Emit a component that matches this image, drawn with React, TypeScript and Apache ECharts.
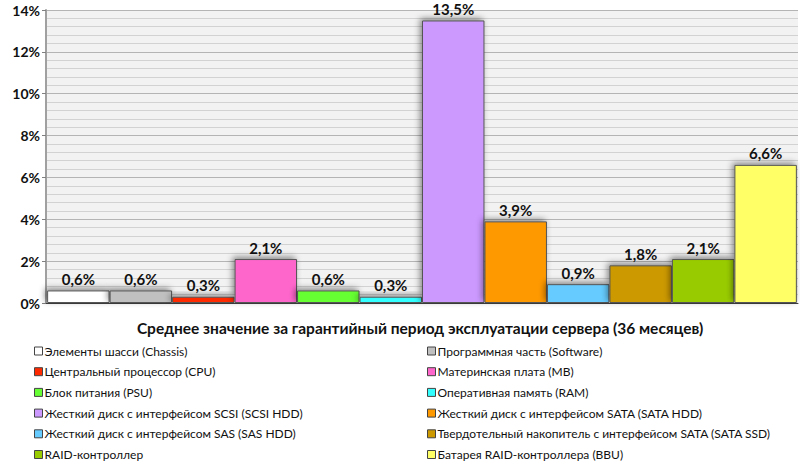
import React, { useEffect, useRef } from "react";
import * as echarts from "echarts";

const names = [
  "Элементы шасси (Chassis)",
  "Программная часть (Software)",
  "Центральный процессор (CPU)",
  "Материнская плата (MB)",
  "Блок питания (PSU)",
  "Оперативная память (RAM)",
  "Жесткий диск с интерфейсом SCSI (SCSI HDD)",
  "Жесткий диск с интерфейсом SATA (SATA HDD)",
  "Жесткий диск с интерфейсом SAS (SAS HDD)",
  "Твердотельный накопитель с интерфейсом SATA (SATA SSD)",
  "RAID-контроллер",
  "Батарея RAID-контроллера (BBU)",
];
const values = [0.6, 0.6, 0.3, 2.1, 0.6, 0.3, 13.5, 3.9, 0.9, 1.8, 2.1, 6.6];
const colors = [
  "#FFFFFF", "#C0C0C0", "#FF2A00", "#FF66CC", "#66FF33", "#33FFFF",
  "#CC99FF", "#FF9900", "#66CCFF", "#CC9900", "#99CC00", "#FFFF66",
];
const category = ["Среднее значение за гарантийный период эксплуатации сервера (36 месяцев)"];

const FONT = "Lato, 'Noto Sans', sans-serif";

export default function App() {
  const ref = useRef<HTMLDivElement>(null);
  useEffect(() => {
    const chart = echarts.init(ref.current!, null, { renderer: "svg" });
    const series = names.map((n, i) => ({
      name: n,
      type: "bar",
      data: [values[i]],
      barGap: "0%",
      barCategoryGap: "0.3%",
      itemStyle: {
        color: colors[i],
        borderColor: "#555",
        borderWidth: 1,
        shadowBlur: 6,
        shadowColor: "rgba(0,0,0,0.45)",
        shadowOffsetX: -2,
        shadowOffsetY: -2,
      },
      label: {
        show: true,
        position: "top",
        distance: 4,
        fontFamily: FONT,
        fontWeight: "bold",
        fontSize: 15,
        color: "#111",
        formatter: (p: any) => String(p.value).replace(".", ",") + "%",
      },
    }));
    const legendCommon = {
      orient: "vertical",
      padding: 0,
      itemWidth: 8,
      itemHeight: 8,
      itemGap: 6.7,
      icon: "rect",
      itemStyle: { borderColor: "#444", borderWidth: 1 },
      textStyle: { fontFamily: FONT, fontSize: 12, color: "#111", lineHeight: 14, padding: [0, 0, 0, -3] },
      top: 344,
      height: 120,
      selectedMode: false,
    };
    chart.setOption({
      animation: false,
      backgroundColor: "#fff",
      grid: {
        left: 46,
        right: 2,
        top: 10,
        bottom: 161,
        show: true,
        backgroundColor: "#F2F2F2",
        borderWidth: 0,
      },
      legend: [
        { ...legendCommon, left: 34, data: names.filter((_, i) => i % 2 === 0) },
        { ...legendCommon, left: 427, data: names.filter((_, i) => i % 2 === 1) },
      ],
      xAxis: {
        type: "category",
        data: category,
        axisLine: { lineStyle: { color: "#404040", width: 1 } },
        axisTick: { show: false },
        axisLabel: { show: false },
      },
      yAxis: {
        type: "value",
        min: 0,
        max: 14,
        interval: 2,
        axisLine: { show: true, lineStyle: { color: "#A0A0A0", width: 2 } },
        axisTick: { show: true, length: 4, lineStyle: { color: "#808080" } },
        axisLabel: {
          formatter: "{value}%",
          fontFamily: FONT,
          fontWeight: "bold",
          fontSize: 14,
          color: "#111",
          margin: 6,
        },
        splitLine: { show: true, lineStyle: { color: "#B4B4B4", width: 1 } },
        minorTick: { show: false, splitNumber: 5 },
        minorSplitLine: { show: true, lineStyle: { color: "#D2D2D2", width: 1 } },
      },
      graphic: [
        {
          type: "text",
          x: 420,
          y: 328,
          style: {
            text: category[0],
            fontFamily: FONT,
            fontWeight: "bold",
            fontSize: 15.5,
            fill: "#111",
            textAlign: "center",
            textVerticalAlign: "middle",
          },
        },
      ],
      series,
    });
    return () => chart.dispose();
  }, []);
  return <div ref={ref} style={{ position: "fixed", left: 0, top: 0, width: 800, height: 464 }} />;
}
